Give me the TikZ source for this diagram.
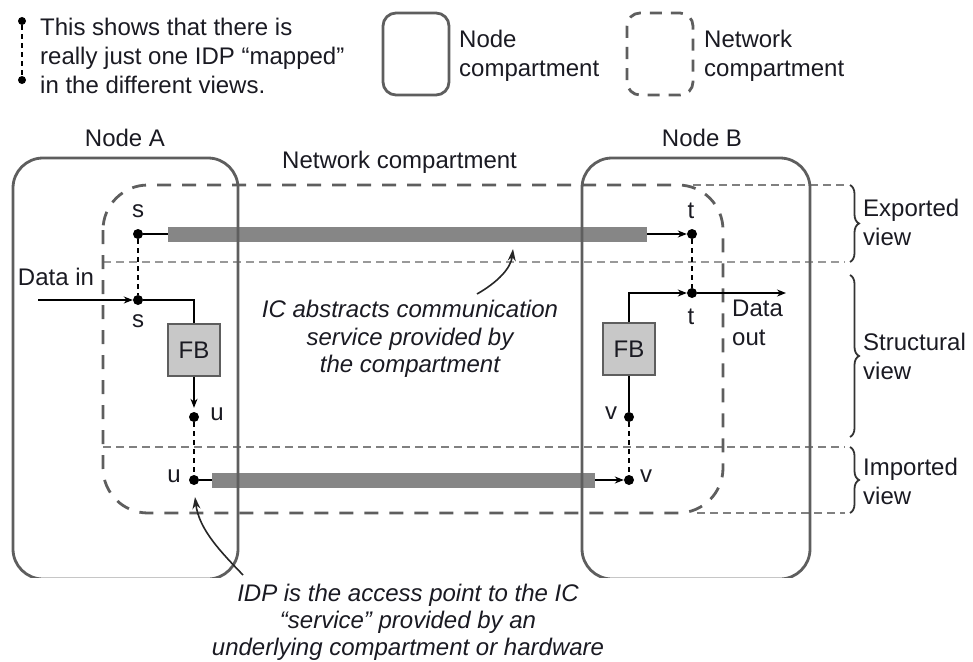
\documentclass[tikz,border=0pt]{standalone}
\usepackage{fontspec}
\setmainfont{Liberation Sans}
\usetikzlibrary{arrows.meta,decorations.pathreplacing}
\definecolor{boxgray}{HTML}{5E5E5E}
\definecolor{bargray}{HTML}{868686}
\definecolor{fbgray}{HTML}{C8C8C8}
\definecolor{txt}{HTML}{1A1A22}
\tikzset{
  idp/.style={circle,fill=black,inner sep=0pt,minimum size=10pt},
  lbl/.style={inner sep=0pt,text=txt},
  fbbox/.style={draw=boxgray,fill=fbgray,line width=1.8pt,minimum width=52pt,minimum height=52pt,inner sep=0pt,text=txt},
  icbar/.style={fill=bargray,draw=none,inner sep=0pt,minimum height=15pt},
  flow/.style={-{Stealth[length=9pt,width=7pt]},line width=1.3pt},
  idplink/.style={line width=1.4pt,dash pattern=on 5pt off 4pt},
  nodebox/.style={draw=boxgray,line width=2.8pt,rounded corners=30pt},
  netbox/.style={draw=boxgray,line width=2.8pt,dash pattern=on 14pt off 11pt,rounded corners=45pt},
  viewline/.style={draw=black!50,line width=1.8pt,dash pattern=on 8pt off 5pt},
  vbrace/.style={decorate,decoration={brace,amplitude=9pt},line width=1.8pt,draw=black!80},
  annot/.style={-{Stealth[length=12pt,width=8pt]},line width=1.6pt,draw=black!85},
}
\begin{document}
\begin{tikzpicture}[x=1pt,y=-1pt,font=\fontsize{24}{29}\selectfont]
\useasboundingbox (0,0) rectangle (973,661);

% ---------- legend ----------
\node[idp,minimum size=8pt] (legTop) at (22,21) {};
\node[idp,minimum size=8pt] (legBot) at (22,80) {};
\draw[idplink] (legTop) -- (legBot);
\node[lbl,anchor=north west,align=left] (legText) at (40,18)
  {This shows that there is\\really just one IDP “mapped”\\in the different views.};
\draw[draw=boxgray,line width=2.8pt,rounded corners=13pt] (383,13) rectangle (449,95);
\node[lbl,anchor=north west,align=left] (legNode) at (459,30) {Node\\compartment};
\draw[draw=boxgray,line width=2.8pt,rounded corners=13pt,dash pattern=on 12pt off 9pt] (627,13) rectangle (693,95);
\node[lbl,anchor=north west,align=left] (legNet) at (704,30) {Network\\compartment};

% ---------- titles ----------
\node[lbl] (titleA) at (125,138) {Node A};
\node[lbl] (titleB) at (702,138) {Node B};
\node[lbl,anchor=west] (titleNet) at (282,162) {Network compartment};

% ---------- view lines ----------
\draw[viewline,draw=black!40] (103,262) -- (845,262);
\draw[viewline] (103,447) -- (845,447);
\draw[viewline] (693,185) -- (845,185);
\draw[viewline] (697,513) -- (845,513);

% ---------- IC bars ----------
\node[icbar,minimum width=479pt] (icTop) at (407.5,234) {};
\node[icbar,minimum width=383pt] (icBot) at (403.5,480) {};

% ---------- network compartment ----------
\draw[netbox] (103,185) rectangle (723,513);

% ---------- node compartments ----------
\begin{scope}
\clip (0,0) rectangle (973,577);
\draw[nodebox] (13,158) rectangle (238,579);
\draw[nodebox] (582,158) rectangle (810,579);
\end{scope}

% ---------- IDPs node A ----------
\node[idp] (sA) at (138,234) {};
\node[idp] (sB) at (138,300) {};
\node[idp] (uA) at (194,417) {};
\node[idp] (uB) at (194,480) {};
\node[fbbox] (fbA) at (194,350) {FB};
\node[lbl] (sAl) at (138,211) {s};
\node[lbl] (sBl) at (138,321) {s};
\node[lbl] (uAl) at (217,414) {u};
\node[lbl] (uBl) at (174,476) {u};
\coordinate (dataIn) at (38,300);
\node[lbl] (dataInL) at (56,277) {Data in};

% ---------- IDPs node B ----------
\node[idp] (tA) at (692,234) {};
\node[idp] (tB) at (692,293) {};
\node[idp] (vA) at (629,417) {};
\node[idp] (vB) at (629,480) {};
\node[fbbox] (fbB) at (629,349) {FB};
\node[lbl] (tAl) at (691,211) {t};
\node[lbl] (tBl) at (691,317) {t};
\node[lbl] (vAl) at (611,413) {v};
\node[lbl] (vBl) at (646,476) {v};
\coordinate (dataOut) at (786,293);
\node[lbl,anchor=north west,align=left] (dataOutL) at (732,300) {Data\\out};

% ---------- connectors ----------
\draw[idplink] (sA) -- (sB);
\draw[idplink] (uA) -- (uB);
\draw[idplink] (tA) -- (tB);
\draw[idplink] (vA) -- (vB);
\draw[line width=1.3pt] (sA) -- (icTop.west);
\draw[flow] (icTop.east) -- (tA);
\draw[line width=1.3pt] (uB) -- (icBot.west);
\draw[flow] (icBot.east) -- (vB);
\draw[flow] (dataIn) -- (sB);
\draw[line width=1.3pt] (sB) -| (fbA.north);
\draw[flow,shorten >=4pt] (fbA.south) -- (uA);
\draw[flow] (fbB.north) |- (tB);
\draw[line width=1.3pt] (fbB.south) -- (vA);
\draw[flow] (tB) -- (dataOut);

% ---------- braces ----------
\draw[vbrace] (850,185) -- (850,262);
\draw[vbrace] (850,275) -- (850,437);
\draw[vbrace] (850,447) -- (850,513);
\node[lbl,anchor=west,align=left] (expL) at (863,222) {Exported\\view};
\node[lbl,anchor=west,align=left] (strL) at (863,356) {Structural\\view};
\node[lbl,anchor=west,align=left] (impL) at (863,481) {Imported\\view};

% ---------- annotations ----------
\node[lbl,anchor=north,align=center,font=\fontsize{24}{27.5}\selectfont\itshape] (icText) at (410,300)
  {IC abstracts communication\\service provided by\\the compartment};
\coordinate (icTail) at (477,294);
\coordinate (icTip) at (513,249);
\draw[annot] (icTail) .. controls (498,282) and (511,268) .. (icTip);

\node[lbl,anchor=north,align=center,font=\fontsize{24}{27}\selectfont\itshape] (idpText) at (408,584)
  {IDP is the access point to the IC\\“service” provided by an\\underlying compartment or hardware};
\coordinate (idpTail) at (243,575);
\coordinate (idpTip) at (195,497);
\draw[annot] (idpTail) .. controls (222,553) and (199,530) .. (idpTip);
\end{tikzpicture}
\end{document}
